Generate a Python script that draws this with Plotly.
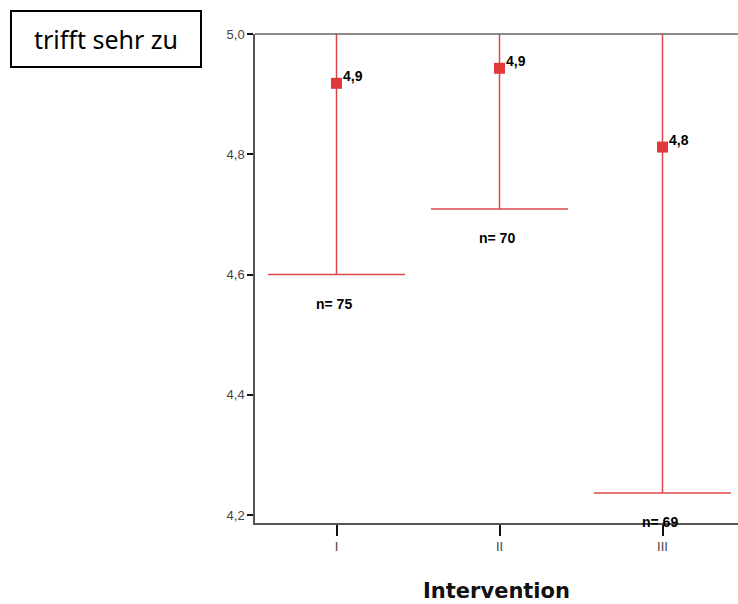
import plotly.graph_objects as go

categories = ["I", "II", "III"]
means = [4.918, 4.943, 4.812]
lower_ci = [4.600, 4.709, 4.237]
n_values = [75, 70, 69]
mean_labels = ["4,9", "4,9", "4,8"]
y_ticks = [4.2, 4.4, 4.6, 4.8, 5.0]

RED = "#e0383b"
LINE_RED = "#d9474a"
xpos = [i + 0.5 for i in range(len(categories))]
cap = 0.42

fig = go.Figure()
for x, m, lo in zip(xpos, means, lower_ci):
    hi = 2 * m - lo
    fig.add_trace(go.Scatter(x=[x, x], y=[lo, hi], mode="lines",
                             line=dict(color=LINE_RED, width=1.5), showlegend=False))
    fig.add_trace(go.Scatter(x=[x - cap, x + cap], y=[lo, lo], mode="lines",
                             line=dict(color=LINE_RED, width=1.5), showlegend=False))
    fig.add_trace(go.Scatter(x=[x - cap, x + cap], y=[hi, hi], mode="lines",
                             line=dict(color=LINE_RED, width=1.5), showlegend=False))
fig.add_trace(go.Scatter(x=xpos, y=means, mode="markers",
                         marker=dict(symbol="square", size=11, color=RED),
                         showlegend=False, cliponaxis=False))

for x, m, lab in zip(xpos, means, mean_labels):
    fig.add_annotation(x=x, y=m, text="<b>" + lab + "</b>", showarrow=False,
                       xanchor="left", yanchor="bottom", xshift=4, yshift=-3,
                       font=dict(family="Liberation Sans", size=14, color="#000"))
for x, lo, n in zip(xpos, lower_ci, n_values):
    fig.add_annotation(x=x, y=lo, text="<b>n= %d</b>" % n, showarrow=False,
                       xanchor="center", yanchor="middle", xshift=-3, yshift=-29,
                       font=dict(family="Liberation Sans", size=14, color="#000"))

# top frame line
fig.add_shape(type="line", xref="paper", yref="paper", x0=0, x1=1, y0=1, y1=1,
              line=dict(color="#666", width=1.5))

fig.add_annotation(xref="paper", yref="paper", x=(10 - 255) / 483, y=1 + (34 - 10) / 489,
                   xanchor="left", yanchor="top", text="trifft sehr zu", showarrow=False,
                   width=188, height=54, borderwidth=2, bordercolor="#000", borderpad=0,
                   bgcolor="white", align="center", valign="middle",
                   font=dict(family="Noto Sans", size=25, color="#000"))

fig.update_layout(
    width=738, height=604,
    margin=dict(l=255, r=0, t=34, b=81),
    plot_bgcolor="white", paper_bgcolor="white",
    separators=",.",
    xaxis=dict(range=[0, (738 - 255) / 163], tickvals=xpos, ticktext=categories,
               showline=True, linecolor="#555", linewidth=1.5,
               ticks="outside", ticklen=11, tickwidth=2, tickcolor="#111",
               showgrid=False, zeroline=False,
               tickfont=dict(family="Liberation Sans", size=13, color="#444"),
               title=dict(text="<b>Intervention</b>", standoff=30,
                          font=dict(family="DejaVu Sans", size=21, color="#111"))),
    yaxis=dict(range=[5.0 - 489 / 601.5, 5.0], tickvals=y_ticks, tickformat=".1f",
               showline=True, linecolor="#555", linewidth=1.5,
               ticks="outside", ticklen=6, tickwidth=2, tickcolor="#111",
               showgrid=False, zeroline=False,
               tickfont=dict(family="Liberation Sans", size=13, color="#444")),
)

fig.write_html("out.html")
